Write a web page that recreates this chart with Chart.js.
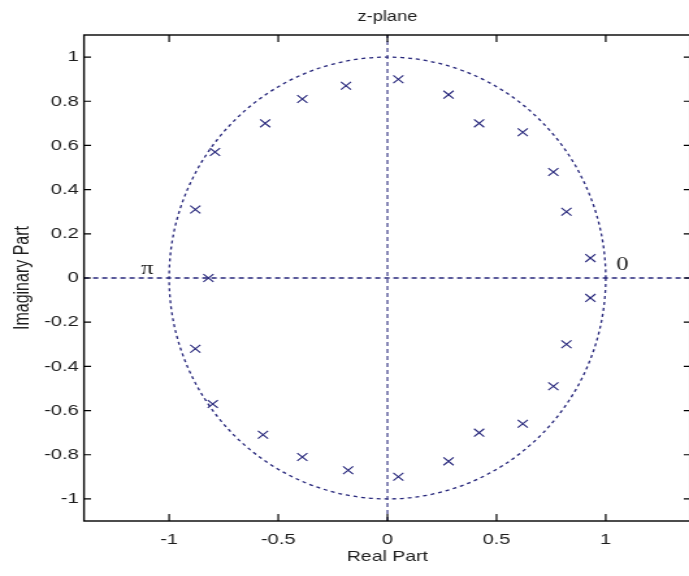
<!DOCTYPE html>
<html>
<head>
<meta charset="utf-8">
<title>z-plane</title>
<script src="https://cdn.jsdelivr.net/npm/chart.js@4.4.1/dist/chart.umd.min.js"></script>
<style>
  html, body { margin: 0; padding: 0; background: #fff; overflow: hidden; }
  /* plot is laid out narrow and widened on screen, like the exported figure */
  #wrap { width: 538px; height: 576px; transform: scaleX(1.3); transform-origin: 0 0; }
</style>
</head>
<body>
<div id="wrap"><canvas id="zplane" width="538" height="576"></canvas></div>
<script>
// pole locations
const poleReal = [0.93, 0.82, 0.76, 0.62, 0.42, 0.28, 0.05, -0.19, -0.39, -0.56, -0.79, -0.88, -0.82,
                  -0.88, -0.80, -0.57, -0.39, -0.18, 0.05, 0.28, 0.42, 0.62, 0.76, 0.82, 0.93]
const poleImag = [0.09, 0.30, 0.48, 0.66, 0.70, 0.83, 0.90, 0.87, 0.81, 0.70, 0.57, 0.31, 0.00,
                  -0.32, -0.57, -0.71, -0.81, -0.87, -0.90, -0.83, -0.70, -0.66, -0.49, -0.30, -0.09]

const xTicks = [-1, -0.5, 0, 0.5, 1]
const yTicks = [-1, -0.8, -0.6, -0.4, -0.2, 0, 0.2, 0.4, 0.6, 0.8, 1]
const xLimits = [-1.39, 1.39]
const yLimits = [-1.1, 1.1]

const stretch = 1.3
const navy = '#25257a'
const textColor = '#1e1e1e'
const sans = "'Liberation Sans', Arial, sans-serif"

const poles = poleReal.map((re, i) => ({ x: re, y: poleImag[i] }))

// dashed unit circle, centre and radii taken from the scales
const unitCircle = {
    id: 'unitCircle',
    beforeDatasetsDraw(chart) {
        const { ctx, scales: { x, y } } = chart
        const cx = x.getPixelForValue(0)
        const cy = y.getPixelForValue(0)
        const rx = x.getPixelForValue(1) - cx
        const ry = cy - y.getPixelForValue(1)
        ctx.save()
        ctx.strokeStyle = navy
        ctx.lineWidth = 1.3
        ctx.setLineDash([3, 3])
        ctx.beginPath()
        ctx.ellipse(cx, cy, rx, ry, 0, 0, Math.PI * 2)
        ctx.stroke()
        ctx.restore()
    }
}

// box round the axes with inward ticks, plus the 0 / pi marks on the real axis
const frame = {
    id: 'frame',
    afterDatasetsDraw(chart) {
        const { ctx, chartArea: a, scales: { x, y } } = chart
        const tick = 7
        ctx.save()
        ctx.strokeStyle = '#000'
        ctx.lineWidth = 1.4
        ctx.strokeRect(a.left, a.top, a.right - a.left, a.bottom - a.top)
        ctx.lineWidth = 1.2
        ctx.beginPath()
        xTicks.forEach(v => {
            const px = x.getPixelForValue(v)
            ctx.moveTo(px, a.bottom); ctx.lineTo(px, a.bottom - tick)
            ctx.moveTo(px, a.top); ctx.lineTo(px, a.top + tick)
        })
        yTicks.forEach(v => {
            const py = y.getPixelForValue(v)
            ctx.moveTo(a.left, py); ctx.lineTo(a.left + tick / stretch, py)
            ctx.moveTo(a.right, py); ctx.lineTo(a.right - tick / stretch, py)
        })
        ctx.stroke()

        ctx.fillStyle = '#1e1e1e'
        ctx.font = "19px 'Liberation Serif', serif"
        ctx.textAlign = 'center'
        ctx.textBaseline = 'middle'
        ctx.fillText('\u03C0', x.getPixelForValue(-1.1), y.getPixelForValue(0.04))
        ctx.fillText('0', x.getPixelForValue(1.077), y.getPixelForValue(0.06))
        ctx.restore()
    }
}

new Chart(document.getElementById('zplane'), {
    type: 'scatter',
    data: {
        datasets: [
            {
                // real axis
                data: [{ x: xLimits[0], y: 0 }, { x: xLimits[1], y: 0 }],
                showLine: true,
                borderColor: navy,
                borderWidth: 1.3,
                borderDash: [4, 3],
                pointRadius: 0
            },
            {
                // imaginary axis
                data: [{ x: 0, y: yLimits[0] }, { x: 0, y: yLimits[1] }],
                showLine: true,
                borderColor: navy,
                borderWidth: 1.1,
                borderDash: [4, 3],
                pointRadius: 0
            },
            {
                data: poles,
                showLine: false,
                pointStyle: 'crossRot',
                pointRadius: 5.5,
                borderWidth: 1.1,
                borderColor: navy,
                backgroundColor: navy
            }
        ]
    },
    plugins: [unitCircle, frame],
    options: {
        responsive: false,
        devicePixelRatio: 1,
        animation: false,
        events: [],
        layout: { padding: { left: 0, right: 1, top: 0, bottom: 0 } },
        plugins: {
            legend: { display: false },
            tooltip: { enabled: false }
        },
        scales: {
            x: {
                type: 'linear',
                position: 'bottom',
                min: xLimits[0],
                max: xLimits[1],
                grid: { display: false, drawTicks: false },
                border: { display: false },
                afterBuildTicks: s => { s.ticks = xTicks.map(v => ({ value: v })) },
                afterFit: s => { s.height = 55 },
                ticks: {
                    autoSkip: false,
                    maxRotation: 0,
                    padding: 9,
                    color: textColor,
                    font: { family: sans, size: 15.5 },
                    callback: v => String(v)
                },
                title: {
                    display: true,
                    text: 'Real Part',
                    color: textColor,
                    font: { family: sans, size: 15 },
                    padding: { top: 0, bottom: 10 }
                }
            },
            xTop: {
                type: 'linear',
                position: 'top',
                min: xLimits[0],
                max: xLimits[1],
                grid: { display: false, drawTicks: false },
                border: { display: false },
                ticks: { display: false },
                afterFit: s => { s.height = 35 },
                title: {
                    display: true,
                    text: 'z-plane',
                    color: textColor,
                    font: { family: sans, size: 14 },
                    padding: { top: 9, bottom: 0 }
                }
            },
            y: {
                type: 'linear',
                position: 'left',
                min: yLimits[0],
                max: yLimits[1],
                grid: { display: false, drawTicks: false },
                border: { display: false },
                afterBuildTicks: s => { s.ticks = yTicks.map(v => ({ value: v })) },
                afterFit: s => { s.width = 84 / stretch },
                ticks: {
                    autoSkip: false,
                    padding: 4,
                    color: textColor,
                    font: { family: sans, size: 15.5 },
                    callback: v => String(v)
                },
                title: {
                    display: true,
                    text: 'Imaginary Part',
                    color: textColor,
                    font: { family: sans, size: 16 },
                    padding: { top: 8, bottom: 0 }
                }
            }
        }
    }
})
</script>
</body>
</html>
